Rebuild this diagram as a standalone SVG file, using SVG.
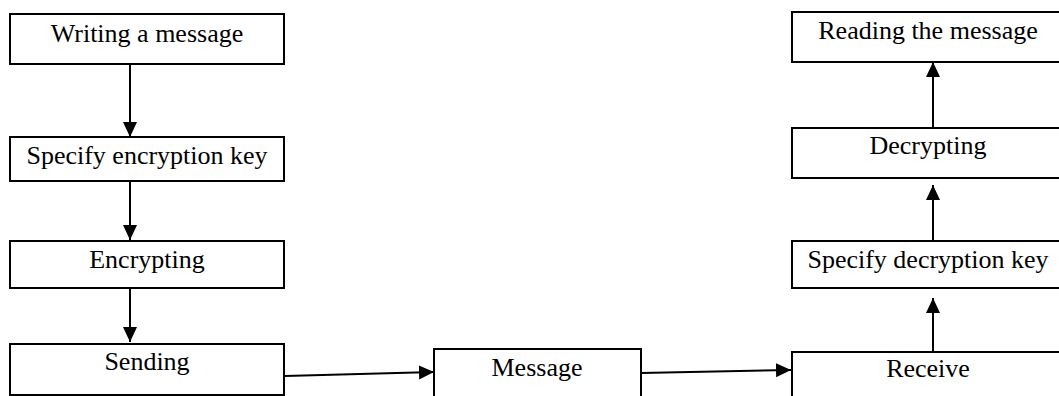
<svg xmlns="http://www.w3.org/2000/svg" width="1059" height="396" viewBox="0 0 1059 396">
<style>
.box{fill:#fff;stroke:#000;stroke-width:2}
.lbl{font-family:"Liberation Serif","Times New Roman",serif;font-size:26px;fill:#000;text-anchor:middle}
.con{stroke:#000;stroke-width:2;fill:none}
</style>
<defs>
<marker id="ah" markerUnits="userSpaceOnUse" markerWidth="16" markerHeight="16" refX="15" refY="7" orient="auto">
<path d="M0,0 L15,7 L0,14 Z" fill="#000"/>
</marker>
</defs>
<rect width="1059" height="396" fill="#fff"/>
<g id="connectors">
<line class="con" x1="130" y1="64" x2="130" y2="137" marker-end="url(#ah)"/>
<line class="con" x1="130" y1="181" x2="130" y2="240" marker-end="url(#ah)"/>
<line class="con" x1="130" y1="288" x2="130" y2="342" marker-end="url(#ah)"/>
<line class="con" x1="285" y1="376" x2="434" y2="372" marker-end="url(#ah)"/>
<line class="con" x1="641" y1="373" x2="791" y2="370" marker-end="url(#ah)"/>
<line class="con" x1="933" y1="352" x2="933" y2="298" marker-end="url(#ah)"/>
<line class="con" x1="933" y1="241" x2="933" y2="185" marker-end="url(#ah)"/>
<line class="con" x1="933" y1="128" x2="933" y2="62" marker-end="url(#ah)"/>
</g>
<g id="writing">
<rect class="box" x="10" y="14" width="274" height="50"/>
<text class="lbl" x="147" y="42">Writing a message</text>
</g>
<g id="specify-enc">
<rect class="box" x="10" y="137" width="274" height="44"/>
<text class="lbl" x="147" y="164">Specify encryption key</text>
</g>
<g id="encrypting">
<rect class="box" x="10" y="241" width="274" height="47"/>
<text class="lbl" x="147" y="268">Encrypting</text>
</g>
<g id="sending">
<rect class="box" x="10" y="344" width="274" height="51"/>
<text class="lbl" x="147" y="370">Sending</text>
</g>
<g id="message">
<rect class="box" x="434" y="349" width="207" height="60"/>
<text class="lbl" x="537" y="376">Message</text>
</g>
<g id="receive">
<rect class="box" x="792" y="352" width="274" height="60"/>
<text class="lbl" x="928" y="377">Receive</text>
</g>
<g id="specify-dec">
<rect class="box" x="792" y="241" width="274" height="47"/>
<text class="lbl" x="928" y="268">Specify decryption key</text>
</g>
<g id="decrypting">
<rect class="box" x="792" y="128" width="274" height="50"/>
<text class="lbl" x="928" y="154">Decrypting</text>
</g>
<g id="reading">
<rect class="box" x="792" y="12" width="274" height="50"/>
<text class="lbl" x="928" y="39">Reading the message</text>
</g>
</svg>
